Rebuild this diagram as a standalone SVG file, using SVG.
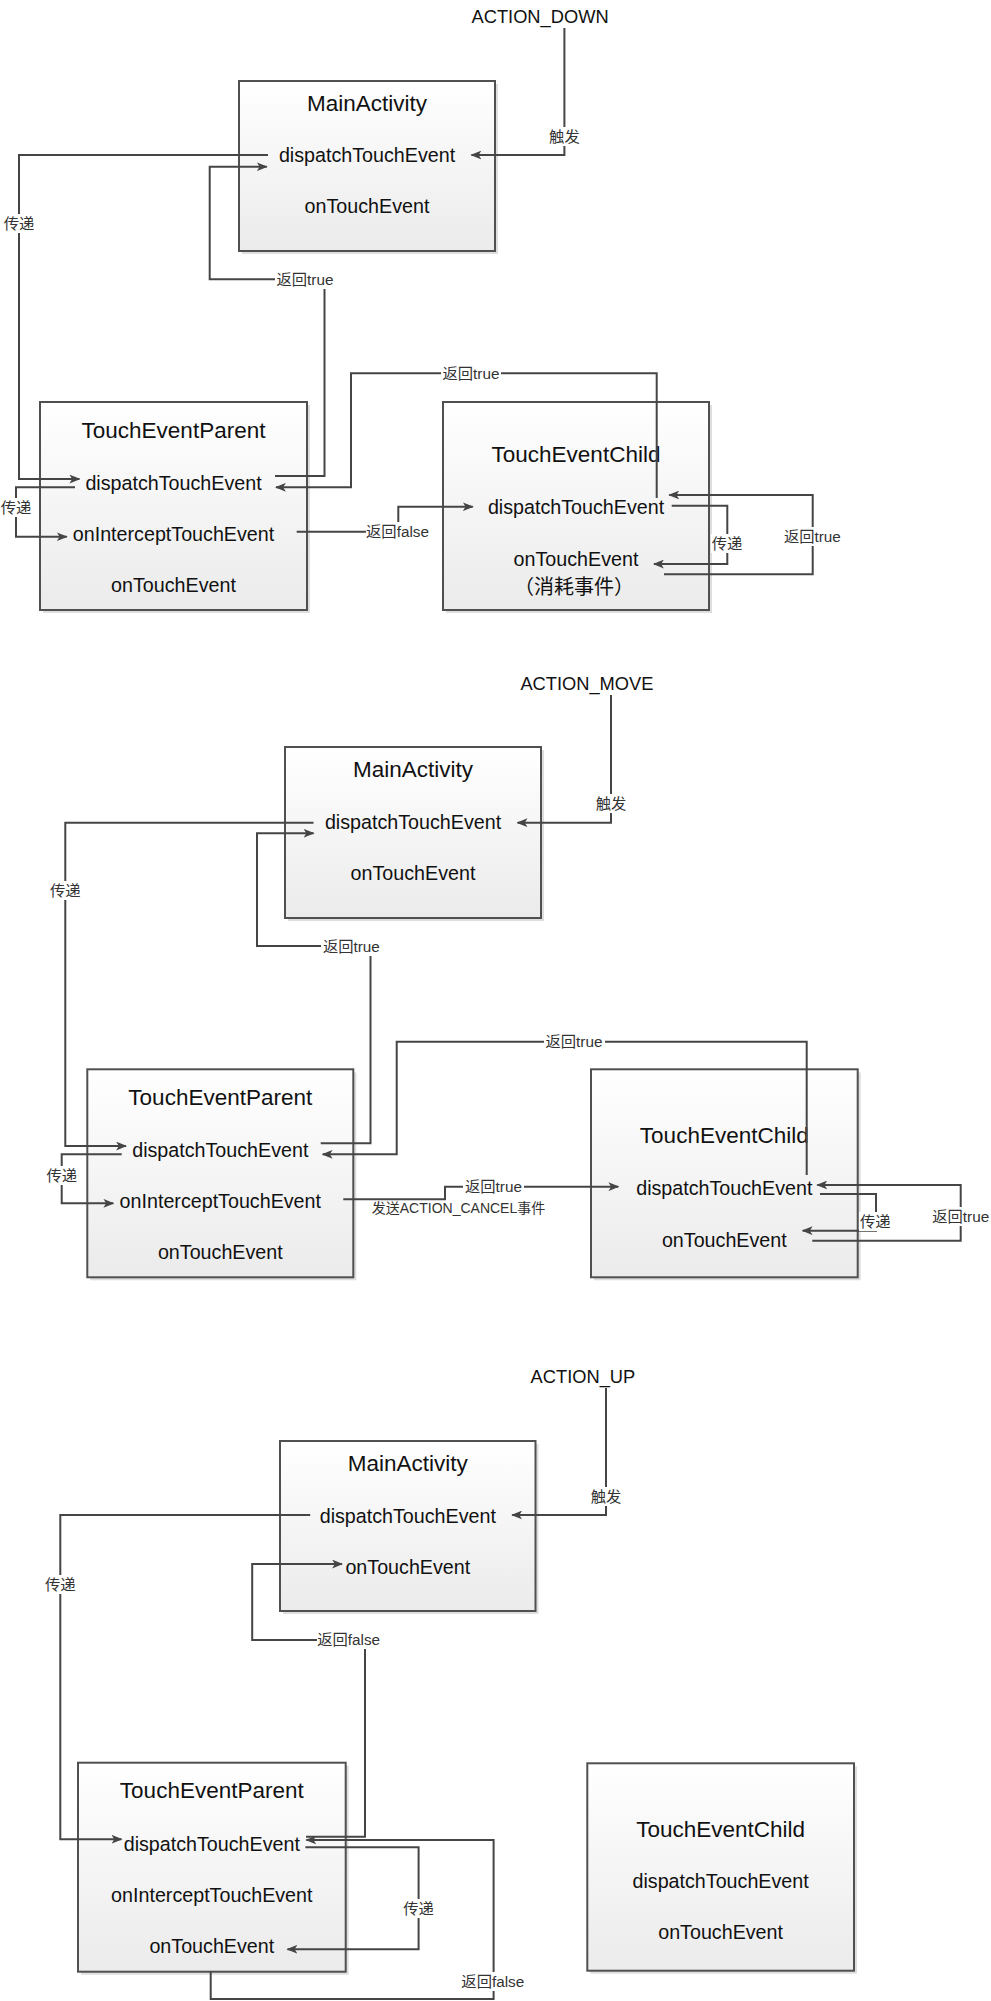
<svg xmlns="http://www.w3.org/2000/svg" width="991" height="2001" viewBox="0 0 991 2001">
<style>
.bg{fill:#ffffff}
.box{fill:url(#gr);stroke:#505050;stroke-width:2}
.sh{fill:#000;opacity:0.13}
.t{font-family:"Liberation Sans",Arial,sans-serif;font-size:19.7px;fill:#111;text-anchor:middle}
.ti{font-size:22.5px}
.cjk{font-family:"Noto Sans CJK SC",sans-serif;font-size:20px}
.ev{font-family:"Liberation Sans",Arial,sans-serif;font-size:18.3px;fill:#111}
.c{fill:none;stroke:#454545;stroke-width:2}
.a{marker-end:url(#ar)}
.lb{fill:#fff}
.l{font-family:"Liberation Sans","Noto Sans CJK SC",sans-serif;font-size:15.3px;fill:#333;text-anchor:middle}
</style>
<defs>
<linearGradient id="gr" x1="0" y1="0" x2="0" y2="1">
<stop offset="0" stop-color="#ffffff"/>
<stop offset="1" stop-color="#ebebeb"/>
</linearGradient>
<marker id="ar" viewBox="0 0 10 8" refX="9" refY="4" markerWidth="11" markerHeight="9" markerUnits="userSpaceOnUse" orient="auto">
<path d="M0,0 L10,4 L0,8 L2.5,4 Z" fill="#454545"/>
</marker>
</defs>
<rect class="bg" x="0" y="0" width="991" height="2001"/>

<!-- Section 1: ACTION_DOWN -->
<text id="ev-down" class="ev" x="471.5" y="22.7">ACTION_DOWN</text>
<g id="s1-main">
<rect class="sh" x="242" y="84" width="256" height="170"/>
<rect class="box" x="239" y="81" width="256" height="170"/>
<text class="t ti" x="367" y="111">MainActivity</text>
<text class="t" x="367" y="162.3">dispatchTouchEvent</text>
<text class="t" x="367" y="213.3">onTouchEvent</text>
</g>
<g id="s1-parent">
<rect class="sh" x="43" y="405" width="267" height="208"/>
<rect class="box" x="40" y="402" width="267" height="208"/>
<text class="t ti" x="173.5" y="438.3">TouchEventParent</text>
<text class="t" x="173.5" y="490">dispatchTouchEvent</text>
<text class="t" x="173.5" y="541">onInterceptTouchEvent</text>
<text class="t" x="173.5" y="592.3">onTouchEvent</text>
</g>
<g id="s1-child">
<rect class="sh" x="446" y="405" width="266" height="208"/>
<rect class="box" x="443" y="402" width="266" height="208"/>
<text class="t ti" x="576" y="461.7">TouchEventChild</text>
<text class="t" x="576" y="514">dispatchTouchEvent</text>
<text class="t" x="576" y="566">onTouchEvent</text>
<text class="t cjk" x="574" y="594">（消耗事件）</text>
</g>

<!-- Section 2: ACTION_MOVE -->
<text id="ev-move" class="ev" x="520.4" y="690">ACTION_MOVE</text>
<g id="s2-main">
<rect class="sh" x="288" y="750" width="256" height="171"/>
<rect class="box" x="285" y="747" width="256" height="171"/>
<text class="t ti" x="413" y="777.3">MainActivity</text>
<text class="t" x="413" y="829.3">dispatchTouchEvent</text>
<text class="t" x="413" y="880">onTouchEvent</text>
</g>
<g id="s2-parent">
<rect class="sh" x="90.3" y="1072.3" width="266" height="208"/>
<rect class="box" x="87.3" y="1069.3" width="266" height="208"/>
<text class="t ti" x="220.3" y="1105">TouchEventParent</text>
<text class="t" x="220.3" y="1157.3">dispatchTouchEvent</text>
<text class="t" x="220.3" y="1208.3">onInterceptTouchEvent</text>
<text class="t" x="220.3" y="1259.3">onTouchEvent</text>
</g>
<g id="s2-child">
<rect class="sh" x="594" y="1072.3" width="266.7" height="208"/>
<rect class="box" x="591" y="1069.3" width="266.7" height="208"/>
<text class="t ti" x="724.3" y="1143.3">TouchEventChild</text>
<text class="t" x="724.3" y="1195">dispatchTouchEvent</text>
<text class="t" x="724.3" y="1246.7">onTouchEvent</text>
</g>

<!-- Section 3: ACTION_UP -->
<text id="ev-up" class="ev" x="530.6" y="1383.3">ACTION_UP</text>
<g id="s3-main">
<rect class="sh" x="283" y="1444" width="255.5" height="170"/>
<rect class="box" x="280" y="1441" width="255.5" height="170"/>
<text class="t ti" x="407.8" y="1470.7">MainActivity</text>
<text class="t" x="407.8" y="1522.7">dispatchTouchEvent</text>
<text class="t" x="407.8" y="1574">onTouchEvent</text>
</g>
<g id="s3-parent">
<rect class="sh" x="81" y="1765.7" width="267.7" height="209"/>
<rect class="box" x="78" y="1762.7" width="267.7" height="209"/>
<text class="t ti" x="211.8" y="1798.3">TouchEventParent</text>
<text class="t" x="211.8" y="1850.7">dispatchTouchEvent</text>
<text class="t" x="211.8" y="1901.7">onInterceptTouchEvent</text>
<text class="t" x="211.8" y="1952.7">onTouchEvent</text>
</g>
<g id="s3-child">
<rect class="sh" x="590.3" y="1766.3" width="266.7" height="207.4"/>
<rect class="box" x="587.3" y="1763.3" width="266.7" height="207.4"/>
<text class="t ti" x="720.6" y="1836.7">TouchEventChild</text>
<text class="t" x="720.6" y="1888.3">dispatchTouchEvent</text>
<text class="t" x="720.6" y="1939.3">onTouchEvent</text>
</g>

<g id="connectors">
<!-- section 1 -->
<path class="c a" d="M564.4,28 V155 H471.5"/>
<path class="c a" d="M268,155 H19 V479 H79.3"/>
<path class="c a" d="M275,476 H324.5 V279.3 H209.7 V166.7 H266.7"/>
<path class="c a" d="M656.7,498 V373.3 H351 V487.3 H276"/>
<path class="c a" d="M75,487.3 H16 V536.7 H66.7"/>
<path class="c a" d="M296.7,531.7 H398.3 V506.7 H472.7"/>
<path class="c a" d="M671.7,505.7 H727.3 V564 H654"/>
<path class="c a" d="M664,574.3 H812.7 V495 H669.3"/>
<!-- section 2 -->
<path class="c a" d="M611,695 V822.7 H517.6"/>
<path class="c a" d="M313.5,822.7 H65.3 V1146 H126"/>
<path class="c a" d="M320.7,1143.3 H370.5 V946 H257 V833.3 H313.5"/>
<path class="c a" d="M806.7,1175 V1041.7 H396.7 V1154.3 H322.7"/>
<path class="c a" d="M121.7,1154.3 H61.7 V1203.3 H113.3"/>
<path class="c a" d="M343.3,1199.3 H445 V1186.7 H618.3"/>
<path class="c a" d="M820,1194 H876 V1230.7 H802.7"/>
<path class="c a" d="M812.3,1240.7 H960.7 V1185 H817.3"/>
<!-- section 3 -->
<path class="c a" d="M606,1388 V1515 H512.2"/>
<path class="c a" d="M310.2,1515 H60.3 V1839.3 H121.4"/>
<path class="c a" d="M306,1836.7 H365 V1640 H252.2 V1564 H342"/>
<path class="c a" d="M305.4,1847.3 H418.6 V1949.3 H287.5"/>
<path class="c a" d="M210.7,1971.7 V1999 H493.6 V1840 H306.4"/>
</g>

<g id="labels">
<!-- section 1 -->
<rect class="lb" x="548" y="127" width="33" height="19"/><text class="l" x="564.4" y="142">触发</text>
<rect class="lb" x="3" y="214" width="33" height="19"/><text class="l" x="19" y="229">传递</text>
<rect class="lb" x="275" y="270" width="60" height="19"/><text class="l" x="305" y="285">返回true</text>
<rect class="lb" x="441" y="364" width="60" height="19"/><text class="l" x="471" y="379">返回true</text>
<rect class="lb" x="0" y="498" width="33" height="19"/><text class="l" x="16" y="513">传递</text>
<rect class="lb" x="366" y="522" width="63" height="19"/><text class="l" x="397.5" y="537">返回false</text>
<rect class="lb" x="711" y="534" width="33" height="19"/><text class="l" x="727" y="549">传递</text>
<rect class="lb" x="782" y="527" width="61" height="19"/><text class="l" x="812.4" y="542">返回true</text>
<!-- section 2 -->
<rect class="lb" x="595" y="794" width="33" height="19"/><text class="l" x="611" y="809">触发</text>
<rect class="lb" x="49" y="881" width="33" height="19"/><text class="l" x="65.3" y="896">传递</text>
<rect class="lb" x="321" y="937" width="61" height="19"/><text class="l" x="351.4" y="952">返回true</text>
<rect class="lb" x="544" y="1032" width="61" height="19"/><text class="l" x="574" y="1047">返回true</text>
<rect class="lb" x="45" y="1166" width="33" height="19"/><text class="l" x="61.7" y="1181">传递</text>
<rect class="lb" x="463" y="1177" width="61" height="19"/><text class="l" x="493.5" y="1192">返回true</text>
<text class="l" x="458.5" y="1213" style="font-size:14px">发送ACTION_CANCEL事件</text>
<rect class="lb" x="859" y="1212" width="33" height="19"/><text class="l" x="875.3" y="1227">传递</text>
<rect class="lb" x="930" y="1207" width="61" height="19"/><text class="l" x="960.7" y="1222">返回true</text>
<!-- section 3 -->
<rect class="lb" x="590" y="1487" width="33" height="19"/><text class="l" x="606" y="1502">触发</text>
<rect class="lb" x="44" y="1575" width="33" height="19"/><text class="l" x="60.3" y="1590">传递</text>
<rect class="lb" x="317" y="1630" width="64" height="19"/><text class="l" x="348.6" y="1645">返回false</text>
<rect class="lb" x="402" y="1899" width="33" height="19"/><text class="l" x="418.6" y="1914">传递</text>
<rect class="lb" x="461" y="1972" width="64" height="19"/><text class="l" x="492.8" y="1987">返回false</text>
</g>
</svg>
